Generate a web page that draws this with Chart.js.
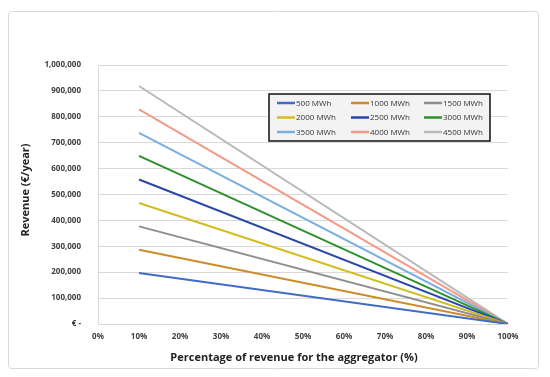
<!DOCTYPE html>
<html>
<head>
<meta charset="utf-8">
<script src="https://cdn.jsdelivr.net/npm/chart.js@4/dist/chart.umd.min.js"></script>
<style>
  html, body { margin: 0; padding: 0; background: #fff; }
  #wrap { width: 550px; height: 377px; }
</style>
</head>
<body>
<div id="wrap"><canvas id="chart" width="550" height="377"></canvas></div>
<script>
// share of revenue kept by the aggregator (%), start and end of each line
const shares = [10, 100];
const seriesNames = ["500 MWh", "1000 MWh", "1500 MWh", "2000 MWh", "2500 MWh",
  "3000 MWh", "3500 MWh", "4000 MWh", "4500 MWh"];
// revenue (€/year) read at 10% and 100%
const revenue500 = [197000, 0];
const revenue1000 = [287000, 0];
const revenue1500 = [377000, 0];
const revenue2000 = [467000, 0];
const revenue2500 = [558000, 0];
const revenue3000 = [649000, 0];
const revenue3500 = [738000, 0];
const revenue4000 = [829000, 0];
const revenue4500 = [919000, 0];
const seriesColors = ["#3f6cc4", "#cf8a2a", "#8e8e8e", "#d2bd1e", "#2a48a8",
  "#2e8f2e", "#7ab0e0", "#f59a86", "#b9b9b9"];
const xTitle = "Percentage of revenue for the aggregator (%)";
const yTitle = "Revenue (€/year)";

const allRevenue = [revenue500, revenue1000, revenue1500, revenue2000, revenue2500,
  revenue3000, revenue3500, revenue4000, revenue4500];

const FONT = "'Open Sans', 'Liberation Sans', sans-serif";

const frame = {
  id: "frame",
  beforeDraw(chart) {
    const ctx = chart.ctx;
    ctx.save();
    ctx.strokeStyle = "#d9d9d9";
    ctx.lineWidth = 1;
    ctx.beginPath();
    ctx.roundRect(8.5, 11.5, 530, 357, 3);
    ctx.stroke();
    ctx.restore();
  }
};

// axis titles, placed the way the original sits (a little off-centre)
const axisTitles = {
  id: "axisTitles",
  afterDraw(chart) {
    const ctx = chart.ctx;
    ctx.save();
    ctx.fillStyle = "#222";
    ctx.font = "bold 11px " + FONT;
    ctx.textAlign = "center";
    ctx.textBaseline = "middle";
    ctx.fillText(xTitle, 294, 358);
    ctx.translate(26, 190);
    ctx.rotate(-Math.PI / 2);
    ctx.fillText(yTitle, 0, 0);
    ctx.restore();
  }
};

// three-column legend box inside the plot
const gridLegend = {
  id: "gridLegend",
  afterDraw(chart) {
    const ctx = chart.ctx;
    const cols = [277, 351, 424];
    const rows = [103, 117.5, 132];
    ctx.save();
    ctx.fillStyle = "#f3f3f3";
    ctx.fillRect(269, 94, 221, 47);
    ctx.strokeStyle = "#111";
    ctx.lineWidth = 1.5;
    ctx.strokeRect(269, 94, 221, 47);
    ctx.font = "8px " + FONT;
    ctx.textBaseline = "middle";
    chart.data.datasets.forEach((ds, i) => {
      const x = cols[i % 3], y = rows[Math.floor(i / 3)];
      ctx.strokeStyle = ds.borderColor;
      ctx.lineWidth = 2.5;
      ctx.beginPath();
      ctx.moveTo(x, y);
      ctx.lineTo(x + 18, y);
      ctx.stroke();
      ctx.fillStyle = "#333";
      ctx.fillText(ds.label, x + 19, y + 0.5);
    });
    ctx.restore();
  }
};

new Chart(document.getElementById("chart"), {
  type: "line",
  data: {
    datasets: seriesNames.map((name, i) => ({
      label: name,
      data: shares.map((s, j) => ({ x: s, y: allRevenue[i][j] })),
      borderColor: seriesColors[i],
      backgroundColor: seriesColors[i],
      borderWidth: 2,
      pointRadius: 0,
      tension: 0
    }))
  },
  options: {
    responsive: false,
    animation: false,
    layout: { padding: { left: 0, top: 65, right: 42, bottom: 0 } },
    plugins: { legend: { display: false }, tooltip: { enabled: false } },
    scales: {
      x: {
        type: "linear",
        min: 0,
        max: 100,
        afterFit(scale) { scale.height = 53; },
        grid: { display: false, drawTicks: false },
        border: { display: true, color: "#d9d9d9" },
        ticks: {
          stepSize: 10,
          padding: 8,
          color: "#404040",
          font: { family: FONT, size: 8, weight: "bold" },
          callback: v => v + "%"
        }
      },
      y: {
        min: 0,
        max: 1000000,
        afterFit(scale) { scale.width = 98; },
        grid: { color: "#d9d9d9", drawTicks: false },
        border: { display: true, color: "#d9d9d9" },
        ticks: {
          stepSize: 100000,
          padding: 17,
          color: "#404040",
          font: { family: FONT, size: 8, weight: "bold" },
          callback: v => v === 0 ? "€ -" : v.toLocaleString("en-US")
        }
      }
    }
  },
  plugins: [frame, axisTitles, gridLegend]
});
</script>
</body>
</html>
